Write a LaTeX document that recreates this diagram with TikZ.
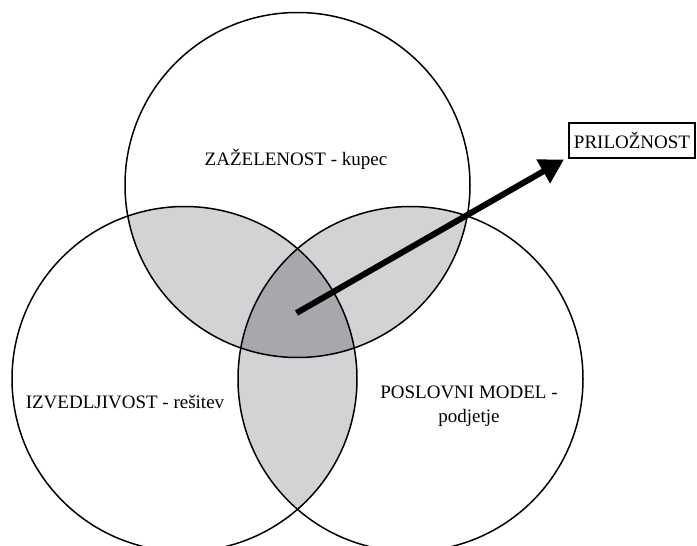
\documentclass[tikz,border=0pt]{standalone}
\usepackage{fontspec}
\setmainfont{Liberation Serif}
\usetikzlibrary{arrows.meta}
\definecolor{lightg}{RGB}{210,211,213}
\definecolor{darkg}{RGB}{167,168,172}
\tikzset{
  ring/.style={draw=black, line width=1.5pt},
  lbl/.style={font=\fontsize{19}{24}\selectfont, inner sep=0pt, align=center},
  boxed/.style={draw=black, line width=1.3pt, font=\fontsize{19}{24}\selectfont, minimum width=126pt, minimum height=35pt, inner sep=0pt},
  bigarrow/.style={line width=6pt, -{Triangle[length=24pt,width=26pt]}}
}
\begin{document}
\begin{tikzpicture}[x=1pt,y=-1pt]
\useasboundingbox (0,0) rectangle (697,546);
\coordinate (T) at (297.5,185);
\coordinate (L) at (184.5,379);
\coordinate (R) at (410.5,379);
\def\rr{172.5}
% pairwise intersections
\begin{scope}
  \clip (T) circle (\rr);
  \fill[lightg] (L) circle (\rr);
  \fill[lightg] (R) circle (\rr);
\end{scope}
\begin{scope}
  \clip (L) circle (\rr);
  \fill[lightg] (R) circle (\rr);
\end{scope}
\begin{scope}
  \clip (T) circle (\rr);
  \clip (L) circle (\rr);
  \fill[darkg] (R) circle (\rr);
\end{scope}
\draw[ring] (T) circle (\rr);
\draw[ring] (L) circle (\rr);
\draw[ring] (R) circle (\rr);
% labels
\node[lbl, anchor=base] (zl) at (296,165) {ZAŽELENOST - kupec};
\node[lbl, anchor=base] (il) at (125,408) {IZVEDLJIVOST - rešitev};
\node[lbl, anchor=base] (pl1) at (469,398) {POSLOVNI MODEL -};
\node[lbl, anchor=base] (pl2) at (469,422) {podjetje};
\node[boxed] (box) at (632,140.5) {PRILOŽNOST};
% arrow
\coordinate (as) at (296.5,313);
\coordinate (ae) at (564,159.5);
\draw[bigarrow] (as) -- (ae);
\end{tikzpicture}
\end{document}
